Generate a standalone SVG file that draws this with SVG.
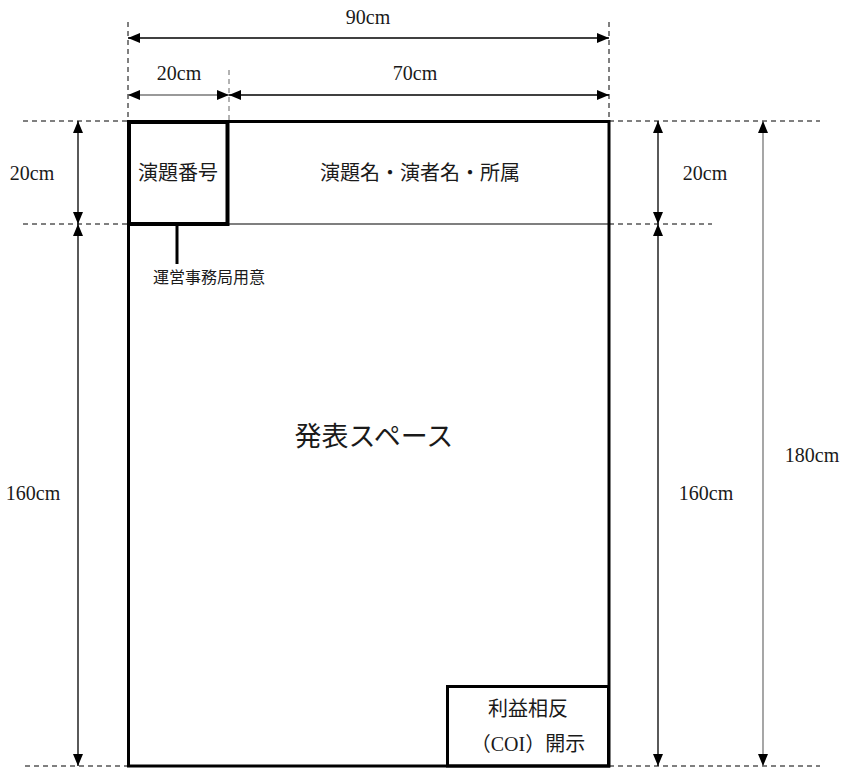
<svg xmlns="http://www.w3.org/2000/svg" width="846" height="780" viewBox="0 0 846 780">
<style>
text{font-family:"Liberation Serif","Noto Sans CJK JP",serif;fill:#1a1a1a;text-anchor:middle}
.dim{font-size:20px}
.jp{font-size:20px}
.dash{stroke:#000;stroke-width:1;stroke-dasharray:5,4;fill:none}
.arr{stroke:#000;stroke-width:1.3;fill:none;marker-start:url(#a);marker-end:url(#a)}
.grey{stroke:#777}
.thick{fill:none;stroke:#000}
</style>
<defs>
<marker id="a" viewBox="0 0 12 10" refX="12" refY="5" markerWidth="12" markerHeight="10" markerUnits="userSpaceOnUse" orient="auto-start-reverse">
<path d="M0,0 L12,5 L0,10 Z" fill="#000"/>
</marker>
</defs>
<rect width="846" height="780" fill="#fff"/>
<g id="guides">
<line class="dash" x1="128" y1="22" x2="128" y2="121"/>
<line class="dash" x1="609" y1="22" x2="609" y2="121"/>
<line class="dash" x1="229" y1="70" x2="229" y2="121" style="stroke:#666"/>
<line class="dash" x1="23" y1="121" x2="128" y2="121"/>
<line class="dash" x1="23" y1="224" x2="128" y2="224"/>
<line class="dash" x1="609" y1="121" x2="820" y2="121"/>
<line class="dash" x1="609" y1="224" x2="712" y2="224"/>
<line class="dash" x1="25" y1="766" x2="128" y2="766"/>
<line class="dash" x1="609" y1="766" x2="820" y2="766"/>
</g>
<g id="connectors">
<line class="arr" x1="128" y1="38" x2="609" y2="38"/>
<line class="arr grey" x1="128" y1="95" x2="229" y2="95"/>
<line class="arr" x1="229" y1="95" x2="609" y2="95"/>
<line class="arr" x1="78" y1="121" x2="78" y2="224"/>
<line class="arr" x1="78" y1="224" x2="78" y2="766"/>
<line class="arr" x1="658" y1="121" x2="658" y2="224"/>
<line class="arr" x1="658" y1="224" x2="658" y2="766"/>
<line class="arr grey" x1="763" y1="121" x2="763" y2="766"/>
<line x1="177" y1="224" x2="177" y2="264" stroke="#000" stroke-width="3"/>
</g>
<g id="labels">
<text class="dim" x="368" y="24">90cm</text>
<text class="dim" x="179" y="80">20cm</text>
<text class="dim" x="415" y="80">70cm</text>
<text class="dim" x="32" y="180">20cm</text>
<text class="dim" x="33" y="500">160cm</text>
<text class="dim" x="705" y="180">20cm</text>
<text class="dim" x="706" y="500">160cm</text>
<text class="dim" x="812" y="462">180cm</text>
</g>
<g id="board">
<rect class="thick" x="128.5" y="121.5" width="480.5" height="644.5" stroke-width="3"/>
<line x1="228" y1="224" x2="609" y2="224" stroke="#000" stroke-width="1.2"/>
<text class="jp" x="420" y="180">演題名・演者名・所属</text>
<text x="374" y="446" style="font-size:27px">発表スペース</text>
</g>
<g id="number-box">
<rect class="thick" x="129" y="122" width="98.5" height="102" stroke-width="4"/>
<text class="jp" x="178" y="180">演題番号</text>
</g>
<g id="office-note">
<text x="209" y="283" style="font-size:16px">運営事務局用意</text>
</g>
<g id="coi-box">
<rect class="thick" x="447.5" y="686.5" width="161" height="79.5" stroke-width="3"/>
<text class="jp" x="528" y="716">利益相反</text>
<text class="jp" x="528" y="751">（COI）開示</text>
</g>
</svg>
